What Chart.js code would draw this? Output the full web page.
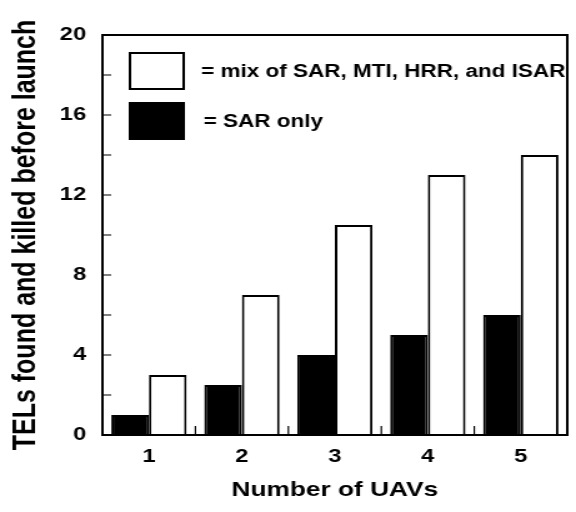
<!DOCTYPE html>
<html>
<head>
<meta charset="utf-8">
<script src="https://cdn.jsdelivr.net/npm/chart.js"></script>
<style>
  html, body { margin: 0; padding: 0; background: #fff; }
</style>
</head>
<body>
<!-- the original figure is stretched sideways, so the canvas is drawn narrow and widened by css -->
<canvas id="chart" width="461" height="512" style="width:576px;height:512px;"></canvas>
<script>
const uavs = ['1', '2', '3', '4', '5'];
const sarOnly = [1, 2.5, 4, 5, 6];
const mixed = [3, 7, 10.5, 13, 14];
const yLabels = [0, 4, 8, 12, 16, 20];

const font = 'Liberation Sans';

// box around the plot + the small inward ticks
const frame = {
  id: 'frame',
  afterDatasetsDraw(chart) {
    const {ctx, chartArea: a, scales: {x, y}} = chart;
    ctx.save();
    ctx.strokeStyle = '#000';
    ctx.lineWidth = 1.2;
    ctx.beginPath();
    y.ticks.forEach(t => {
      const py = y.getPixelForValue(t.value);
      ctx.moveTo(a.left, py);
      ctx.lineTo(a.left + 7, py);
    });
    for (let i = 1; i < uavs.length; i++) {
      const px = (x.getPixelForTick(i - 1) + x.getPixelForTick(i)) / 2;
      ctx.moveTo(px, a.bottom);
      ctx.lineTo(px, a.bottom - 9);
    }
    ctx.stroke();
    ctx.lineWidth = 2;
    ctx.strokeRect(a.left, a.top, a.right - a.left, a.bottom - a.top);
    ctx.restore();
  }
};

// legend boxes sit inside the plot, top left
const boxLegend = {
  id: 'boxLegend',
  afterDraw(chart) {
    const {ctx, chartArea: a} = chart;
    const sets = [chart.data.datasets[1], chart.data.datasets[0]];
    ctx.save();
    ctx.font = 'bold 18px "' + font + '"';
    ctx.textBaseline = 'middle';
    ctx.fillStyle = '#000';
    sets.forEach((ds, i) => {
      const bx = a.left + 21, by = a.top + 17 + i * 50;
      ctx.fillStyle = ds.backgroundColor;
      ctx.fillRect(bx, by, 45, 38);
      ctx.strokeStyle = ds.borderColor;
      ctx.lineWidth = 2;
      ctx.strokeRect(bx + 1, by + 1, 43, 36);
      ctx.fillStyle = '#000';
      ctx.fillText('= ' + ds.label, bx + 58 + i * 2, by + 20);
    });
    ctx.restore();
  }
};

new Chart(document.getElementById('chart'), {
  type: 'bar',
  data: {
    labels: uavs,
    datasets: [{
      label: 'SAR only',
      data: sarOnly,
      backgroundColor: '#000',
      borderColor: '#000',
      borderWidth: 2
    }, {
      label: 'mix of SAR, MTI, HRR, and ISAR',
      data: mixed,
      backgroundColor: '#fff',
      borderColor: '#000',
      borderWidth: 2
    }]
  },
  options: {
    responsive: false,
    animation: false,
    devicePixelRatio: 1,
    layout: { padding: { left: 0, top: 35, right: 7, bottom: 0 } },
    categoryPercentage: 0.81,
    barPercentage: 1,
    plugins: {
      legend: { display: false },
      tooltip: { enabled: false }
    },
    scales: {
      x: {
        grid: { display: false, drawTicks: false },
        border: { display: false },
        ticks: {
          color: '#000',
          padding: 10,
          font: { family: font, size: 19, weight: 'bold' }
        },
        title: {
          display: true,
          text: 'Number of UAVs',
          color: '#000',
          padding: { top: 0, bottom: 9 },
          font: { family: font, size: 21, weight: 'bold' }
        },
        afterFit(scale) { scale.height = 77; }
      },
      y: {
        min: 0,
        max: 20,
        grid: { display: false, drawTicks: false },
        border: { display: false },
        ticks: {
          stepSize: 2,
          autoSkip: false,
          color: '#000',
          padding: 13,
          font: { family: font, size: 19, weight: 'bold' },
          callback: v => yLabels.includes(v) ? v : ''
        },
        title: {
          display: true,
          text: 'TELs found and killed before launch',
          color: '#000',
          padding: { top: 6, bottom: 0 },
          font: { family: font, size: 25, weight: 'bold' }
        },
        afterFit(scale) { scale.width = 82; }
      }
    }
  },
  plugins: [frame, boxLegend]
});
</script>
</body>
</html>
